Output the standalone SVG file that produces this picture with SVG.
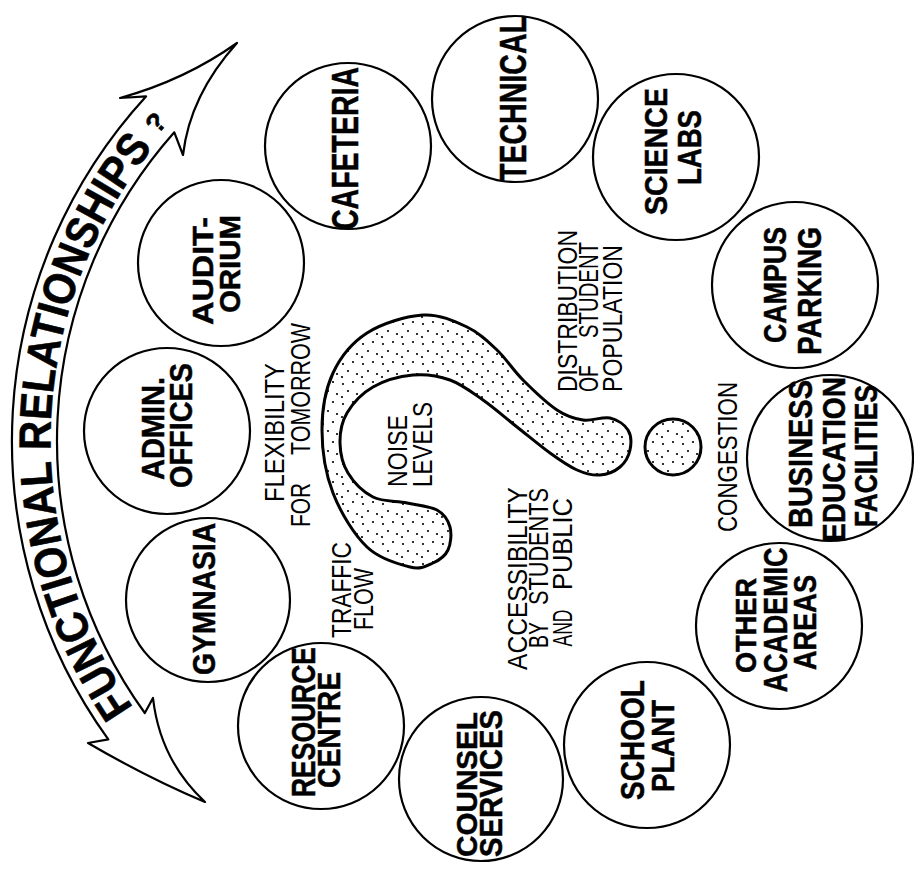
<svg xmlns="http://www.w3.org/2000/svg" width="914" height="870" viewBox="0 0 914 870">
  <style>
    .node circle { fill: #fff; stroke: #000; stroke-width: 2.2; }
    .lbl { font-family: "Liberation Sans", Arial, Helvetica, sans-serif; font-weight: bold; text-anchor: middle; fill: #000; stroke: #000; stroke-width: 0.5; }
    .note { font-family: "Liberation Sans", Arial, Helvetica, sans-serif; font-weight: normal; font-size: 27px; text-anchor: middle; fill: #000; }
    .title { font-family: "Liberation Sans", Arial, Helvetica, sans-serif; font-weight: bold; fill: #000; stroke: #000; stroke-width: 0.6; }
    .band { fill: #fff; stroke: #000; stroke-width: 2.2; stroke-linejoin: round; }
    .blob { fill: url(#stipple); stroke: #000; stroke-width: 3; stroke-linejoin: round; }
  </style>
  <defs>
    <pattern id="stipple" width="20" height="20" patternUnits="userSpaceOnUse">
      <rect width="20" height="20" fill="#fff"/>
      <circle cx="3" cy="4" r="1.1" fill="#000"/>
      <circle cx="13" cy="2" r="1.1" fill="#000"/>
      <circle cx="8" cy="11" r="1.1" fill="#000"/>
      <circle cx="17" cy="14" r="1.1" fill="#000"/>
      <circle cx="2" cy="17" r="1.1" fill="#000"/>
    </pattern>
    <path id="titlePath" d="M 133.4 707.5 A 471 471 0 0 1 152.9 147.7"/>
  </defs>
  <rect width="914" height="870" fill="#fff"/>

  <!-- curved double-headed band with the heading -->
  <g id="title-arrow">
    <path class="band" d="M 146 96.4 L 120 98 Q 185 80 237 43 Q 190 95 183 155 L 174.3 132.3 A 465 465 0 0 0 144.8 713 L 153 698 Q 160 760 205 802 Q 148 778 88 743 L 108.3 739.4 A 510 510 0 0 1 146 96.4 Z"/>
    <text class="title" font-size="45"><textPath href="#titlePath" textLength="600" lengthAdjust="spacingAndGlyphs">FUNCTIONAL RELATIONSHIPS</textPath></text>
    <text class="title" font-size="27" text-anchor="middle" transform="translate(162.8 128.7) rotate(-49)">?</text>
  </g>

  <!-- central question mark -->
  <g id="question-mark">
    <path class="blob" d="M 410 567 C 399 564.3 379.8 559.3 367 547 S 340.5 512.5 333 493 S 322 450 322 430 S 325.5 389.2 333 373 S 352 342.7 367 333 S 406.3 316 423 315 S 454.7 321.2 467 327 S 487.7 341.2 497 350 S 513 370 523 380 S 547 403.3 557 410 S 574.2 418.7 583 420 S 602.5 416.3 610 418 S 624.7 424.7 628 430 S 631.3 443.8 630 450 S 625 462.8 620 467 S 607.2 474.5 600 475 S 585.3 473.7 577 470 S 560 460.2 550 453 S 528.2 435.8 517 427 S 494.2 407.8 483 400 S 461.7 384.2 450 380 S 425.8 373.8 413 375 S 384 380.7 373 387 S 352.5 403.7 347 413 S 339.8 433 340 443 S 342.5 464 348 473 S 363.2 492 373 497 S 396.3 500.8 407 503 S 429.8 506 437 510 S 448.2 520.3 450 527 S 450.8 544 448 550 S 439.3 560.2 433 563 S 421 569.7 410 567 Z"/>
    <circle class="blob" cx="673" cy="447" r="28"/>
  </g>

  <!-- facility nodes -->
  <g id="cafeteria" class="node">
    <circle cx="348" cy="146" r="83"/>
    <g transform="translate(348 146) rotate(-90)">
      <text class="lbl" x="-2.5" y="10" font-size="36" textLength="163" lengthAdjust="spacingAndGlyphs">CAFETERIA</text>
    </g>
  </g>
  <g id="technical" class="node">
    <circle cx="515" cy="99" r="83"/>
    <g transform="translate(515 99) rotate(-90)">
      <text class="lbl" x="0.5" y="11" font-size="37" textLength="165" lengthAdjust="spacingAndGlyphs">TECHNICAL</text>
    </g>
  </g>
  <g id="science-labs" class="node">
    <circle cx="676" cy="157" r="83"/>
    <g transform="translate(676 157) rotate(-90)">
      <text class="lbl" x="5.5" y="-9" font-size="32" textLength="127" lengthAdjust="spacingAndGlyphs">SCIENCE</text>
      <text class="lbl" x="9.5" y="25" font-size="33" textLength="75" lengthAdjust="spacingAndGlyphs">LABS</text>
    </g>
  </g>
  <g id="campus-parking" class="node">
    <circle cx="795" cy="285" r="83"/>
    <g transform="translate(795 285) rotate(-90)">
      <text class="lbl" x="0" y="-9" font-size="31" textLength="116" lengthAdjust="spacingAndGlyphs">CAMPUS</text>
      <text class="lbl" x="-6" y="26" font-size="33" textLength="128" lengthAdjust="spacingAndGlyphs">PARKING</text>
    </g>
  </g>
  <g id="business-education" class="node">
    <circle cx="830" cy="458" r="83"/>
    <g transform="translate(830 458) rotate(-90)">
      <text class="lbl" x="4" y="-18" font-size="33" textLength="148" lengthAdjust="spacingAndGlyphs">BUSINESS</text>
      <text class="lbl" x="-1.5" y="15" font-size="32" textLength="165" lengthAdjust="spacingAndGlyphs">EDUCATION</text>
      <text class="lbl" x="2" y="47" font-size="31" textLength="142" lengthAdjust="spacingAndGlyphs">FACILITIES</text>
    </g>
  </g>
  <g id="other-academic" class="node">
    <circle cx="779" cy="626" r="83"/>
    <g transform="translate(779 626) rotate(-90)">
      <text class="lbl" x="0.5" y="-23" font-size="29" textLength="95" lengthAdjust="spacingAndGlyphs">OTHER</text>
      <text class="lbl" x="6" y="8" font-size="33" textLength="145" lengthAdjust="spacingAndGlyphs">ACADEMIC</text>
      <text class="lbl" x="3.5" y="37" font-size="31" textLength="95" lengthAdjust="spacingAndGlyphs">AREAS</text>
    </g>
  </g>
  <g id="school-plant" class="node">
    <circle cx="647" cy="745" r="83"/>
    <g transform="translate(647 745) rotate(-90)">
      <text class="lbl" x="5" y="-3" font-size="33" textLength="120" lengthAdjust="spacingAndGlyphs">SCHOOL</text>
      <text class="lbl" x="-1" y="27" font-size="31" textLength="92" lengthAdjust="spacingAndGlyphs">PLANT</text>
    </g>
  </g>
  <g id="counsel-services" class="node">
    <circle cx="481" cy="779" r="82"/>
    <g transform="translate(481 779) rotate(-90)">
      <text class="lbl" x="-5.5" y="-4" font-size="30" textLength="145" lengthAdjust="spacingAndGlyphs">COUNSEL</text>
      <text class="lbl" x="-4.5" y="21" font-size="31" textLength="147" lengthAdjust="spacingAndGlyphs">SERVICES</text>
    </g>
  </g>
  <g id="resource-centre" class="node">
    <circle cx="321" cy="726" r="83"/>
    <g transform="translate(321 726) rotate(-90)">
      <text class="lbl" x="4" y="-6" font-size="34" textLength="150" lengthAdjust="spacingAndGlyphs">RESOURCE</text>
      <text class="lbl" x="-4" y="19" font-size="31" textLength="116" lengthAdjust="spacingAndGlyphs">CENTRE</text>
    </g>
  </g>
  <g id="gymnasia" class="node">
    <circle cx="208" cy="600" r="82"/>
    <g transform="translate(208 600) rotate(-90)">
      <text class="lbl" x="1" y="7" font-size="32" textLength="152" lengthAdjust="spacingAndGlyphs">GYMNASIA</text>
    </g>
  </g>
  <g id="admin-offices" class="node">
    <circle cx="167" cy="431" r="83"/>
    <g transform="translate(167 431) rotate(-90)">
      <text class="lbl" x="2.5" y="-3" font-size="31" textLength="103" lengthAdjust="spacingAndGlyphs">ADMIN.</text>
      <text class="lbl" x="5.5" y="25" font-size="31" textLength="125" lengthAdjust="spacingAndGlyphs">OFFICES</text>
    </g>
  </g>
  <g id="auditorium" class="node">
    <circle cx="221" cy="263" r="83"/>
    <g transform="translate(221 263) rotate(-90)">
      <text class="lbl" x="-8" y="-8" font-size="29" textLength="108" lengthAdjust="spacingAndGlyphs">AUDIT-</text>
      <text class="lbl" x="-1" y="19" font-size="29" textLength="98" lengthAdjust="spacingAndGlyphs">ORIUM</text>
    </g>
  </g>

  <!-- planning concerns written around the question mark -->
  <g id="concerns" transform="rotate(-90)">
    <text class="note" x="-432.5" y="284" textLength="139" lengthAdjust="spacingAndGlyphs">FLEXIBILITY</text>
    <text class="note" x="-505" y="310" textLength="44" lengthAdjust="spacingAndGlyphs">FOR</text>
    <text class="note" x="-389" y="310" textLength="132" lengthAdjust="spacingAndGlyphs">TOMORROW</text>
    <text class="note" x="-590" y="351" textLength="96" lengthAdjust="spacingAndGlyphs">TRAFFIC</text>
    <text class="note" x="-599" y="373" textLength="62" lengthAdjust="spacingAndGlyphs">FLOW</text>
    <text class="note" x="-451" y="407" textLength="72" lengthAdjust="spacingAndGlyphs">NOISE</text>
    <text class="note" x="-444.5" y="432" textLength="85" lengthAdjust="spacingAndGlyphs">LEVELS</text>
    <text class="note" x="-311" y="577" textLength="162" lengthAdjust="spacingAndGlyphs">DISTRIBUTION</text>
    <text class="note" x="-378.5" y="598" textLength="27" lengthAdjust="spacingAndGlyphs">OF</text>
    <text class="note" x="-290" y="598" textLength="96" lengthAdjust="spacingAndGlyphs">STUDENT</text>
    <text class="note" x="-318.5" y="622" textLength="147" lengthAdjust="spacingAndGlyphs">POPULATION</text>
    <text class="note" x="-578.5" y="527" textLength="183" lengthAdjust="spacingAndGlyphs">ACCESSIBILITY</text>
    <text class="note" x="-635" y="548" textLength="26" lengthAdjust="spacingAndGlyphs">BY</text>
    <text class="note" x="-546.5" y="548" textLength="117" lengthAdjust="spacingAndGlyphs">STUDENTS</text>
    <text class="note" x="-628" y="572" textLength="37" lengthAdjust="spacingAndGlyphs">AND</text>
    <text class="note" x="-544" y="572" textLength="92" lengthAdjust="spacingAndGlyphs">PUBLIC</text>
    <text class="note" x="-457" y="737" textLength="150" lengthAdjust="spacingAndGlyphs">CONGESTION</text>
  </g>
</svg>
